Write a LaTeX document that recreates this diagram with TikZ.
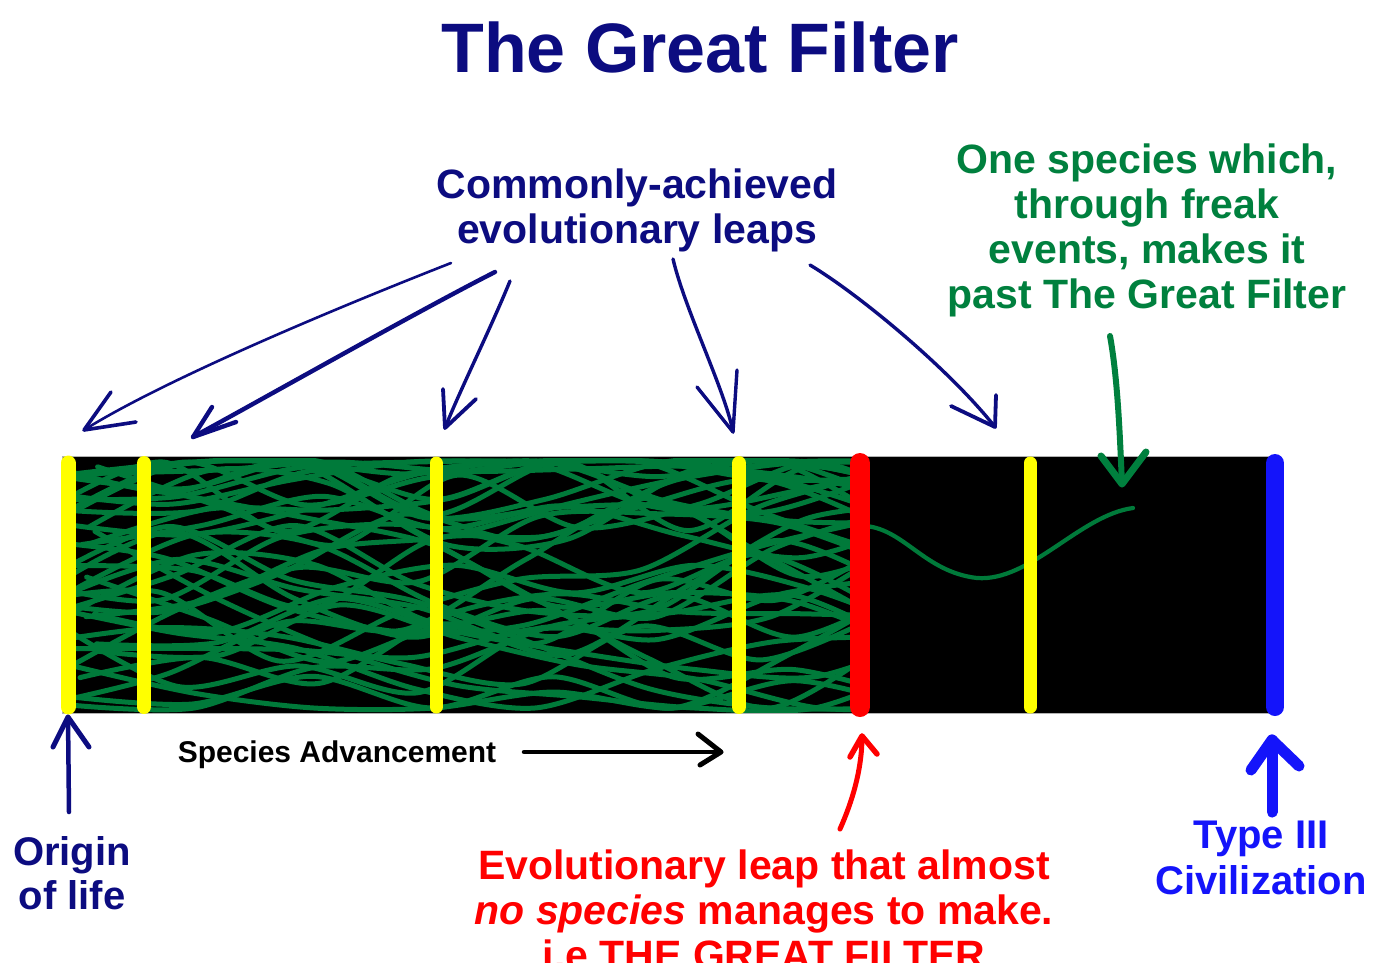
\documentclass[tikz,border=0pt]{standalone}
\usepackage{fontspec}
\setmainfont{Liberation Sans}
\definecolor{navy}{RGB}{12,12,128}
\definecolor{leafgreen}{RGB}{0,128,62}
\definecolor{strandgreen}{RGB}{0,122,58}
\definecolor{pureblue}{RGB}{20,20,250}
\definecolor{purered}{RGB}{255,0,0}
\definecolor{pureyellow}{RGB}{255,255,0}
\tikzset{
  lbl/.style={font=\bfseries\fontsize{41}{45}\selectfont, anchor=base, inner sep=0pt},
  strand/.style={strandgreen, line width=5pt, line cap=round},
  barline/.style={line width=#1, line cap=round},
  handarrow/.style={line cap=round, line join=round},
}
\begin{document}
\begin{tikzpicture}[x=1pt,y=-1pt]
\useasboundingbox (0,0) rectangle (1378,962);
\fill[white] (0,0) rectangle (1378,962);

% title
\node[lbl, font=\bfseries\fontsize{70}{80}\selectfont, text=navy] (title) at (700,72) {The Great Filter};

% black band
\fill[black] (62,456) rectangle (1275,713);
\draw[gray!60, line width=0.6pt] (62,456) rectangle (1275,713);

% tangle of species
\begin{scope}
\clip (72,458) rectangle (852,712);
\pgfmathsetseed{11}
\foreach \i in {1,...,44}{
  \pgfmathsetmacro\ya{462+246*rnd}
  \pgfmathsetmacro\yb{min(708,max(462,\ya+140*(rnd-0.5)))}
  \pgfmathsetmacro\yc{min(708,max(462,\yb+140*(rnd-0.5)))}
  \pgfmathsetmacro\yd{min(708,max(462,\yc+140*(rnd-0.5)))}
  \pgfmathsetmacro\ye{min(708,max(462,\yd+140*(rnd-0.5)))}
  \pgfmathsetmacro\yf{min(708,max(462,\ye+140*(rnd-0.5)))}
  \pgfmathsetmacro\yg{min(708,max(462,\yf+140*(rnd-0.5)))}
  \pgfmathsetmacro\yh{min(708,max(462,\yg+140*(rnd-0.5)))}
  \pgfmathsetmacro\xo{60*rnd}
  \draw[strand] plot[smooth] coordinates {({40+\xo},\ya) ({160+\xo},\yb) ({280+\xo},\yc) ({400+\xo},\yd) ({520+\xo},\ye) ({640+\xo},\yf) ({760+\xo},\yg) ({880+\xo},\yh)};
}
\end{scope}

% lone survivor
\coordinate (survA) at (866,526);
\coordinate (survB) at (1133,508);
\draw[strand, line width=4.2pt] (survA) .. controls (905,530) and (925,572) .. (977,578)
  .. controls (1030,582) and (1080,515) .. (survB);

% bars
\draw[barline=15pt, pureyellow] (68,463) -- (68,707);
\draw[barline=14pt, pureyellow] (144,463) -- (144,707);
\draw[barline=13pt, pureyellow] (436,463) -- (436,707);
\draw[barline=14pt, pureyellow] (739,463) -- (739,707);
\draw[barline=20pt, purered] (860,463) -- (860,707);
\draw[barline=13pt, pureyellow] (1030,463) -- (1030,707);
\draw[barline=18pt, pureblue] (1275,463) -- (1275,707);

% labels
\node[lbl, text=navy] (leaps1) at (637,198) {Commonly-achieved};
\node[lbl, text=navy] (leaps2) at (637,243) {evolutionary leaps};

\node[lbl, text=leafgreen] (one1) at (1147,173) {One species which,};
\node[lbl, text=leafgreen] (one2) at (1147,218) {through freak};
\node[lbl, text=leafgreen] (one3) at (1147,263) {events, makes it};
\node[lbl, text=leafgreen] (one4) at (1147,308) {past The Great Filter};

\node[lbl, font=\bfseries\fontsize{40}{45}\selectfont, text=navy] (orig1) at (72,865) {Origin};
\node[lbl, font=\bfseries\fontsize{40}{45}\selectfont, text=navy] (orig2) at (72,909) {of life};

\node[lbl, font=\bfseries\fontsize{40}{45}\selectfont, text=pureblue] (type1) at (1261,848) {Type III};
\node[lbl, font=\bfseries\fontsize{40}{45}\selectfont, text=pureblue] (type2) at (1261,894) {Civilization};

\node[lbl, text=purered] (evo1) at (764,879) {Evolutionary leap that almost};
\node[lbl, text=purered] (evo2) at (764,924) {\textit{no species} manages to make.};
\node[lbl, text=purered] (evo3) at (764,969) {i.e THE GREAT FILTER};

\node[lbl, font=\bfseries\fontsize{30}{34}\selectfont, text=black] (adv) at (337,762) {Species Advancement};

% arrows from "Commonly-achieved evolutionary leaps"
\coordinate (a1s) at (451,263); \coordinate (a1t) at (84,430);
\coordinate (a1u) at (111,392); \coordinate (a1l) at (136,422);
\draw[handarrow, navy, line width=2.6pt] (a1s) .. controls (400,283) and (180,370) .. (a1t);
\draw[handarrow, navy, line width=3.6pt] (a1u) -- (a1t) -- (a1l);

\coordinate (a2s) at (495,272); \coordinate (a2t) at (193,437);
\coordinate (a2u) at (212,407); \coordinate (a2l) at (236,422);
\draw[handarrow, navy, line width=4.4pt] (a2s) .. controls (420,310) and (270,395) .. (a2t);
\draw[handarrow, navy, line width=4.4pt] (a2u) -- (a2t) -- (a2l);

\coordinate (a3s) at (510,281); \coordinate (a3t) at (445,428);
\coordinate (a3u) at (443,389); \coordinate (a3l) at (476,399);
\draw[handarrow, navy, line width=3.4pt] (a3s) .. controls (490,330) and (460,390) .. (a3t);
\draw[handarrow, navy, line width=3.8pt] (a3u) -- (a3t) -- (a3l);

\coordinate (a4s) at (673,259); \coordinate (a4t) at (733,432);
\coordinate (a4u) at (697,387); \coordinate (a4l) at (737,370);
\draw[handarrow, navy, line width=3.4pt] (a4s) .. controls (685,310) and (725,390) .. (a4t);
\draw[handarrow, navy, line width=3.4pt] (a4u) -- (a4t) -- (a4l);

\coordinate (a5s) at (810,265); \coordinate (a5t) at (995,427);
\coordinate (a5u) at (951,406); \coordinate (a5l) at (996,395);
\draw[handarrow, navy, line width=3.4pt] (a5s) .. controls (860,295) and (950,370) .. (a5t);
\draw[handarrow, navy, line width=3.8pt] (a5u) -- (a5t) -- (a5l);

% green arrow
\coordinate (gs) at (1110,336); \coordinate (gt) at (1122,484);
\coordinate (gu) at (1101,456); \coordinate (gl) at (1146,452);
\draw[handarrow, leafgreen, line width=6pt] (gs) .. controls (1118,380) and (1120,440) .. (gt);
\draw[handarrow, leafgreen, line width=7pt] (gu) -- (gt) -- (gl);

% origin arrow
\coordinate (os) at (69,812); \coordinate (ot) at (68,717);
\coordinate (ou) at (53,747); \coordinate (ol) at (89,747);
\draw[handarrow, navy, line width=4.5pt] (os) -- (ot);
\draw[handarrow, navy, line width=5pt] (ou) -- (ot) -- (ol);

% species advancement arrow
\coordinate (bs) at (524,752); \coordinate (bt) at (721,752);
\coordinate (bu) at (698,734); \coordinate (bl) at (700,765);
\draw[handarrow, black, line width=4.5pt] (bs) -- (bt);
\draw[handarrow, black, line width=5pt] (bu) -- (bt) -- (bl);

% red arrow
\coordinate (rs) at (840,829); \coordinate (rt) at (862,736);
\coordinate (ru) at (850,757); \coordinate (rl) at (877,754);
\draw[handarrow, purered, line width=5pt] (rs) .. controls (852,802) and (862,770) .. (rt);
\draw[handarrow, purered, line width=5.5pt] (ru) -- (rt) -- (rl);

% blue arrow
\coordinate (ts) at (1272,812); \coordinate (tt) at (1272,740);
\coordinate (tu) at (1251,770); \coordinate (tl) at (1299,766);
\draw[handarrow, pureblue, line width=11pt] (ts) -- (tt);
\draw[handarrow, pureblue, line width=11pt] (tu) -- (tt) -- (tl);
\end{tikzpicture}
\end{document}
